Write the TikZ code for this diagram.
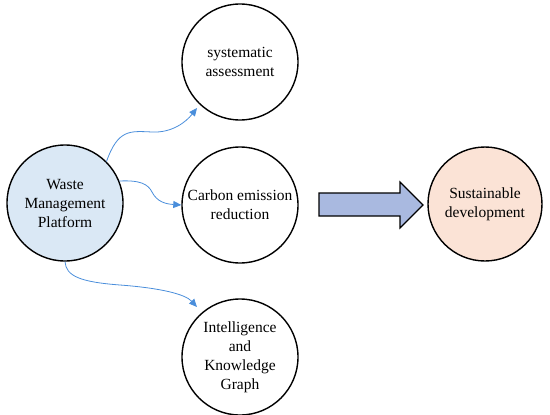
\documentclass[tikz,border=0pt]{standalone}
\usepackage{fontspec}
\setmainfont{Liberation Serif}
\usetikzlibrary{arrows.meta}
\definecolor{wastefill}{HTML}{DAE8F5}
\definecolor{sustfill}{HTML}{FBE3D6}
\definecolor{bigarrow}{HTML}{A9B9E0}
\definecolor{linkblue}{HTML}{4A8EDB}
\tikzset{
  bubble/.style={circle, draw=black, line width=1.4bp, minimum size=116bp, inner sep=0pt,
    align=center, font=\fontsize{15.5bp}{19bp}\selectfont},
  link/.style={draw=linkblue, line width=0.8bp, -{Triangle[length=8bp,width=7bp]}},
  blockarrow/.style={draw=black, line width=1.2bp, fill=bigarrow, line join=miter},
}
\begin{document}
\begin{tikzpicture}[x=1bp,y=1bp]
\useasboundingbox (0,0) rectangle (550,414);
\node[bubble, fill=wastefill] (W) at (65,211) {Waste\\Management\\Platform};
\node[bubble] (S) at (240,352) {systematic\\assessment};
\node[bubble] (C) at (240,209) {Carbon emission\\reduction};
\node[bubble] (I) at (240,57) {Intelligence\\and\\Knowledge\\Graph};
\node[bubble, fill=sustfill, minimum size=114bp] (D) at (485,210) {Sustainable\\development};
\draw[blockarrow] (319,198) -- (400,198) -- (400,186) -- (423,209) -- (400,232) -- (400,221) -- (319,221) -- cycle;
\coordinate (e1) at (197,306);
\coordinate (e3) at (197,107);
\draw[link] (W.45) .. controls (118,285) and (130,283) .. (152,282) .. controls (172,281) and (186,292) .. (e1);
\draw[link] (W.22) .. controls (140,234) and (148,230) .. (152,222) .. controls (157,212) and (166,210) .. (C.west);
\draw[link] (W.south) .. controls (66,138) and (80,132) .. (120,129) .. controls (160,126) and (185,120) .. (e3);
\end{tikzpicture}
\end{document}
